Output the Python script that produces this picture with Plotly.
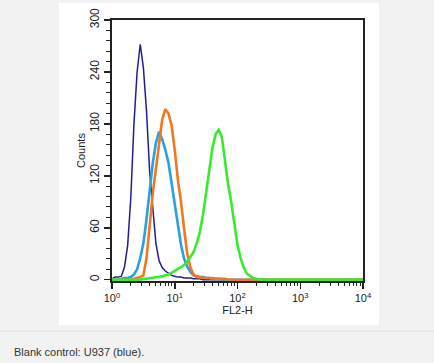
import plotly.graph_objects as go

# FL2-H channels (log10 of intensity)
log_channel = [0.00, 0.05, 0.10, 0.15, 0.20, 0.25, 0.30, 0.35, 0.40, 0.45,
               0.50, 0.55, 0.60, 0.65, 0.70, 0.75, 0.80, 0.85, 0.90, 0.95,
               1.00, 1.05, 1.10, 1.15, 1.20, 1.25, 1.30, 1.35, 1.40, 1.45,
               1.50, 1.55, 1.60, 1.65, 1.70, 1.75, 1.80, 1.85, 1.90, 1.95,
               2.00, 2.05, 2.10, 2.15, 2.20, 2.25, 2.30, 2.35, 2.40, 2.45,
               2.50, 3.00, 3.50, 4.00]

blank_counts = [1, 3, 3, 4, 15, 40, 95, 180, 240, 272,
                245, 195, 125, 80, 42, 22, 14, 10, 7, 5,
                4, 3, 3, 2, 2, 2, 1, 1, 1, 0,
                0, 0, 0, 0, 0, 0, 0, 0, 0, 0,
                0, 0, 0, 0, 0, 0, 0, 0, 0, 0,
                0, 0, 0, 0]

lightblue_counts = [0, 0, 0, 1, 2, 2, 3, 6, 12, 25,
                    42, 70, 105, 135, 158, 171, 162, 150, 135, 110,
                    87, 62, 40, 24, 15, 9, 5, 4, 3, 3,
                    2, 2, 1, 1, 1, 0, 0, 0, 0, 0,
                    0, 0, 0, 0, 0, 0, 0, 0, 0, 0,
                    0, 0, 0, 0]

orange_counts = [0, 0, 0, 0, 0, 0, 0, 1, 2, 3,
                 5, 25, 62, 100, 128, 160, 185, 197, 192, 178,
                 150, 115, 90, 58, 30, 14, 6, 3, 3, 2,
                 2, 2, 2, 1, 1, 1, 1, 0, 0, 0,
                 0, 0, 0, 0, 0, 0, 0, 0, 0, 0,
                 0, 0, 0, 0]

green_counts = [0, 0, 0, 0, 0, 0, 0, 0, 0, 0,
                1, 1, 2, 2, 3, 3, 4, 5, 6, 8,
                10, 12, 14, 17, 21, 26, 32, 42, 55, 75,
                100, 128, 152, 168, 173, 165, 138, 110, 90, 62,
                40, 25, 14, 7, 4, 2, 1, 0, 0, 0,
                0, 0, 0, 0]

x_tickvals = [1, 10, 100, 1000, 10000]
x_ticktext = ["10<sup>0</sup>", "10<sup>1</sup>", "10<sup>2</sup>",
              "10<sup>3</sup>", "10<sup>4</sup>"]
y_tickvals = [0, 60, 120, 180, 240, 300]
y_ticktext = ["0", "60", "120", "180", "240", "300"]

fl2 = [10 ** v for v in log_channel]

fig = go.Figure()
series = [
    (blank_counts, "rgb(35,30,150)", 1.5),
    (lightblue_counts, "rgb(40,160,225)", 2.6),
    (orange_counts, "rgb(240,120,35)", 2.6),
    (green_counts, "rgb(55,235,45)", 2.6),
]
for counts, color, w in series:
    fig.add_trace(go.Scatter(x=fl2, y=counts, mode="lines",
                             line=dict(color=color, width=w),
                             showlegend=False, hoverinfo="skip"))

minor_x = [m * 10 ** k for k in range(4) for m in range(2, 10)]

fig.update_layout(
    width=434, height=363,
    margin=dict(l=112, r=71, t=20, b=82),
    paper_bgcolor="#f2f2f2",
    plot_bgcolor="white",
    font=dict(family="Liberation Sans, Arial, sans-serif", color="#222"),
    shapes=[
        dict(type="rect", xref="paper", yref="paper", layer="below",
             x0=-53 / 251, x1=(379 - 112) / 251,
             y0=(281 - 325) / 261, y1=(281 - 3) / 261,
             fillcolor="white", line=dict(width=0)),
        dict(type="line", xref="paper", yref="paper",
             x0=-112 / 251, x1=(434 - 112) / 251,
             y0=(281 - 331) / 261, y1=(281 - 331) / 261,
             line=dict(color="#dcdcdc", width=1)),
    ],
    annotations=[
        dict(text="Blank control: U937 (blue).", xref="paper", yref="paper",
             x=(12 - 112) / 251, y=(281 - 352) / 261, xanchor="left",
             yanchor="middle", showarrow=False,
             font=dict(size=11, color="#333", family="Liberation Sans, Arial, sans-serif")),
    ],
)

fig.update_xaxes(
    type="log", range=[0, 4], automargin=False,
    tickvals=x_tickvals, ticktext=x_ticktext,
    ticks="outside", ticklen=6, tickwidth=1.5, tickcolor="#222",
    minor=dict(tickvals=minor_x, ticks="outside", ticklen=3, tickwidth=1, tickcolor="#222"),
    showline=True, linecolor="#222", linewidth=2, mirror=True,
    showgrid=False, zeroline=False,
    tickfont=dict(size=11, color="#222"),
    title=dict(text="FL2-H", font=dict(size=11, color="#222"), standoff=2),
)
fig.update_yaxes(
    range=[-1.5, 300], automargin=False,
    tickvals=y_tickvals, ticktext=y_ticktext, tickangle=-90,
    ticks="outside", ticklen=6, tickwidth=1.5, tickcolor="#222",
    minor=dict(dtick=12, tick0=0, ticks="outside", ticklen=4, tickwidth=1, tickcolor="#222"),
    showline=True, linecolor="#222", linewidth=2, mirror=True,
    showgrid=False, zeroline=False,
    tickfont=dict(size=12, color="#222"),
    title=dict(text="Counts", font=dict(size=11, color="#222"), standoff=0),
)

fig.write_html("out.html",
               config={"displayModeBar": False, "staticPlot": True},
               post_script="document.body.style.margin='0';"
                           "document.body.style.background='#f2f2f2';")
